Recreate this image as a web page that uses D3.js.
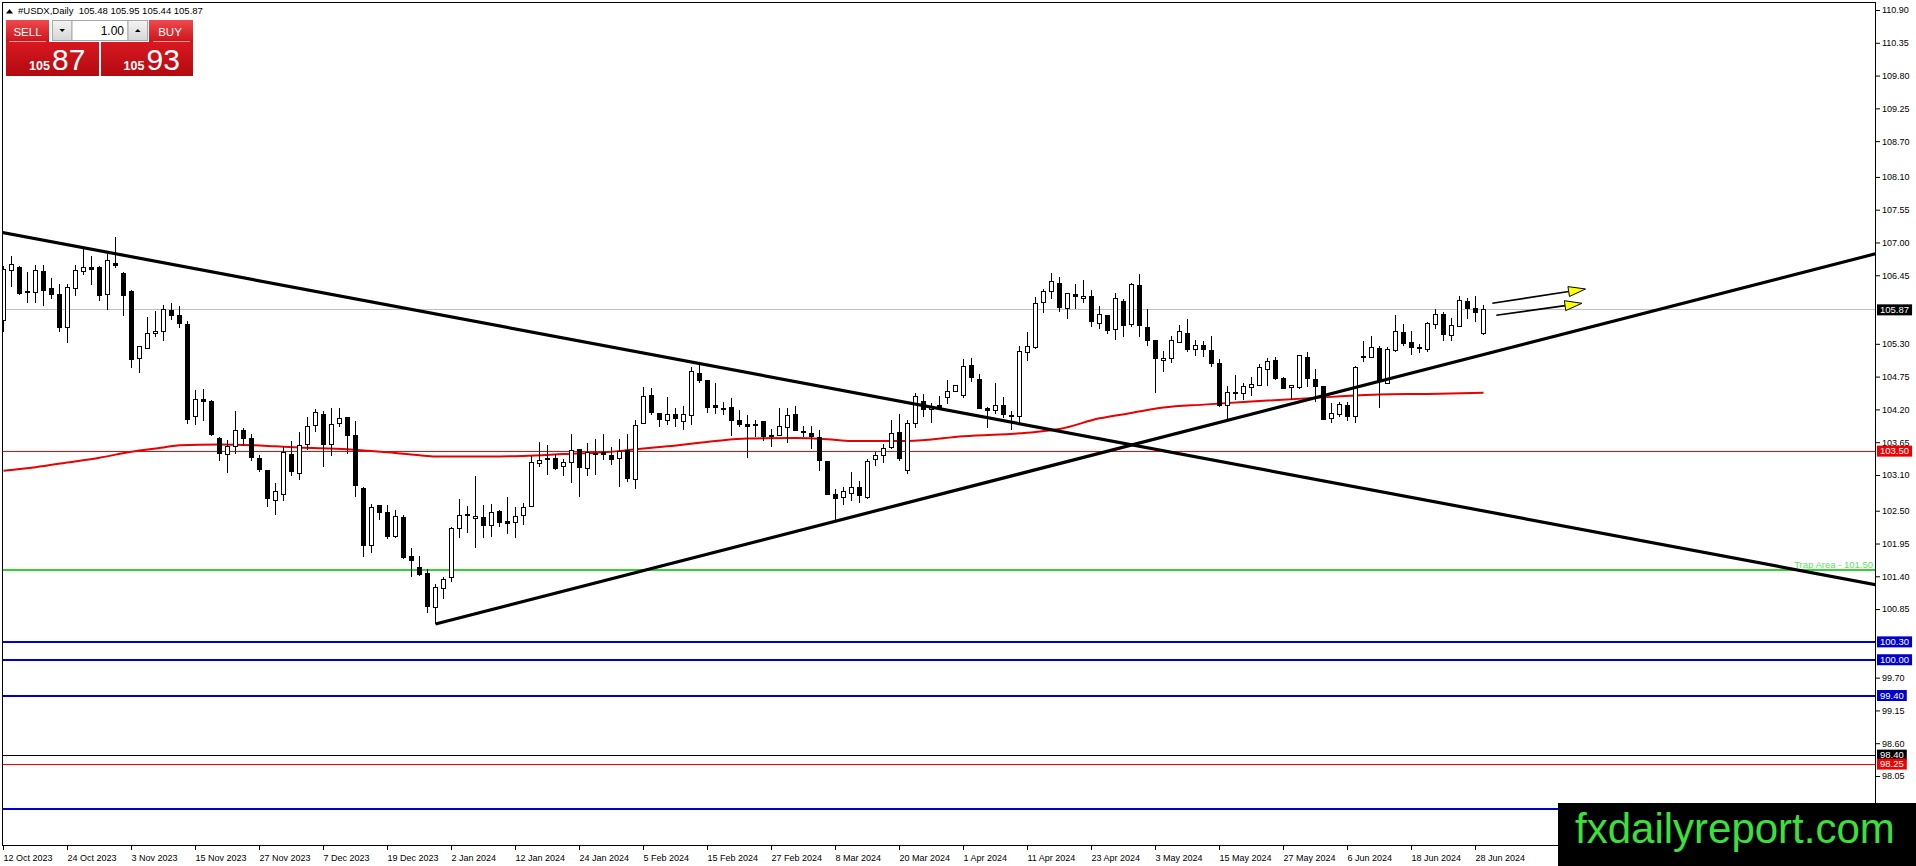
<!DOCTYPE html>
<html>
<head>
<meta charset="utf-8">
<script src="https://cdn.jsdelivr.net/npm/d3@7"></script>
<style>
body { margin: 0; background: #fff; overflow: hidden; }
text { font-family: "Liberation Sans", Arial, sans-serif; }
</style>
</head>
<body>
<svg id="chart" width="1916" height="866"></svg>
<script>
// daily candles, 12 Oct 2023 .. 1 Jul 2024
var opens = [105.69,106.53,106.58,106.18,106.16,106.52,106.22,106.12,105.57,106.23,106.51,106.58,106.58,106.13,106.64,106.48,106.17,105.06,105.22,105.48,
105.50,105.86,105.77,105.63,104.08,104.36,104.34,103.72,103.45,103.57,103.85,103.72,103.37,103.18,102.68,102.78,103.45,103.13,103.61,103.93,
104.12,103.61,103.97,104.07,103.77,102.88,101.91,102.58,102.47,102.06,102.38,101.74,101.55,101.44,100.88,101.20,101.38,102.20,102.42,102.37,
102.39,102.25,102.49,102.32,102.30,102.42,102.57,103.29,103.38,103.38,103.24,103.31,103.53,103.21,103.45,103.48,103.43,103.37,103.51,103.03,
103.97,104.43,104.13,104.01,104.11,103.99,104.10,104.80,104.68,104.26,104.22,104.24,104.02,103.95,103.94,103.99,103.77,103.77,103.90,104.12,
103.83,103.80,103.73,103.33,102.77,102.72,102.79,102.89,102.72,103.36,103.43,103.56,103.81,103.18,103.97,104.34,104.19,104.27,104.40,104.50,
104.43,104.94,104.70,104.21,104.18,104.27,104.10,104.08,105.16,105.24,105.99,106.17,106.32,105.89,106.13,106.06,106.09,105.64,105.78,105.54,
106.01,105.62,106.27,105.58,105.36,105.02,105.05,105.33,105.48,105.20,105.27,105.18,104.97,104.26,104.47,104.46,104.57,104.60,104.87,105.02,
104.71,104.57,104.57,105.07,104.70,104.58,104.05,104.12,104.27,104.08,105.08,105.07,105.22,104.64,105.18,105.49,105.33,105.22,105.21,105.63,
105.80,105.44,105.59,106.01,105.89,105.48];
var highs = [106.60,106.77,106.60,106.51,106.62,106.63,106.41,106.30,106.30,106.63,106.89,106.77,106.60,106.80,107.09,106.50,106.20,105.27,105.75,105.85,
105.95,105.98,105.94,105.69,104.53,104.54,104.36,103.74,103.69,104.18,103.89,103.78,103.43,103.19,102.97,103.57,103.67,103.82,104.07,104.20,
104.18,104.23,104.23,104.08,104.00,102.89,102.61,102.60,102.60,102.51,102.43,101.87,101.74,101.53,101.27,101.39,102.23,102.69,102.58,103.08,
102.59,102.62,102.51,102.73,102.57,102.63,103.41,103.66,103.60,103.46,103.36,103.79,103.54,103.64,103.71,103.79,103.57,103.71,103.79,104.02,
104.58,104.56,104.14,104.40,104.23,104.26,104.91,104.94,104.69,104.64,104.32,104.39,104.19,104.11,104.02,104.00,103.87,104.22,104.22,104.26,
103.92,103.92,103.86,103.34,102.87,102.90,103.15,103.00,103.37,103.48,103.62,104.03,104.12,104.02,104.47,104.45,104.30,104.42,104.70,104.61,
105.05,105.07,104.80,104.24,104.65,104.40,104.17,105.27,105.50,106.08,106.22,106.48,106.42,106.16,106.31,106.37,106.21,105.93,105.79,106.16,
106.06,106.32,106.47,105.88,105.37,105.18,105.43,105.61,105.71,105.37,105.35,105.43,105.04,104.60,104.77,104.65,104.74,104.96,105.06,105.08,
104.74,104.61,105.12,105.16,104.87,104.59,104.30,104.32,104.32,104.93,105.35,105.43,105.26,105.24,105.79,105.63,105.52,105.30,105.66,105.89,
105.83,105.74,106.10,106.07,106.10,105.95];
var lows = [105.50,106.26,106.12,105.98,105.98,105.94,106.05,105.49,105.32,106.11,106.45,106.29,106.02,105.86,106.58,105.77,104.90,104.81,105.21,105.42,
105.35,105.70,105.56,103.96,103.94,104.00,103.76,103.34,103.14,103.45,103.58,103.34,103.15,102.56,102.43,102.67,103.09,103.02,103.52,103.82,
103.24,103.41,103.90,103.46,102.73,101.73,101.79,102.35,102.03,102.05,101.69,101.39,101.41,100.79,100.60,101.02,101.31,102.05,102.12,101.88,
102.05,102.06,102.23,102.11,102.04,102.26,102.56,103.24,103.10,103.19,103.08,102.96,102.73,103.08,103.10,103.35,103.27,102.90,102.99,102.87,
103.96,104.11,103.91,103.93,103.91,103.86,103.93,104.64,104.14,104.12,104.11,103.75,103.91,103.38,103.73,103.67,103.57,103.76,103.63,103.84,
103.74,103.54,103.17,102.76,102.33,102.60,102.67,102.63,102.69,103.25,103.30,103.54,103.34,103.12,103.88,104.08,103.98,104.23,104.29,104.49,
104.39,104.66,104.20,103.89,104.12,104.05,103.85,103.98,105.01,105.21,105.81,106.05,105.84,105.71,105.89,105.98,105.58,105.55,105.46,105.37,
105.42,105.59,105.41,105.27,104.47,104.83,104.98,105.31,105.17,105.09,105.08,104.91,104.24,104.02,104.36,104.36,104.43,104.59,104.59,104.69,
104.54,104.36,104.54,104.58,104.33,104.02,103.97,104.08,104.01,103.97,104.99,105.06,104.23,104.62,105.16,105.26,105.11,105.14,105.17,105.55,
105.34,105.34,105.58,105.72,105.66,105.44];
var closes = [106.55,106.63,106.15,106.16,106.53,106.20,106.12,105.57,106.25,106.53,106.58,106.55,106.11,106.69,106.62,106.11,105.03,105.26,105.48,105.50,
105.88,105.77,105.64,104.03,104.37,104.34,103.78,103.46,103.57,103.84,103.72,103.39,103.19,102.71,102.82,103.48,103.15,103.60,103.91,104.15,
103.61,103.95,104.04,103.77,102.92,101.91,102.56,102.47,102.07,102.41,101.71,101.67,101.43,100.90,101.21,101.35,102.20,102.42,102.43,102.40,
102.25,102.47,102.31,102.29,102.41,102.56,103.31,103.35,103.36,103.21,103.31,103.51,103.23,103.48,103.46,103.44,103.36,103.49,103.04,103.93,
104.41,104.14,104.03,104.11,104.04,104.11,104.83,104.68,104.23,104.23,104.20,104.02,103.95,103.92,103.93,103.74,103.77,103.91,104.10,103.85,
103.81,103.74,103.34,102.77,102.70,102.82,102.89,102.76,103.32,103.42,103.54,103.79,103.38,103.96,104.41,104.20,104.24,104.24,104.50,104.60,
104.92,104.74,104.21,104.18,104.26,104.11,104.09,105.17,105.26,105.98,106.18,106.35,105.91,106.15,106.10,106.10,105.68,105.80,105.53,106.06,
105.61,106.30,105.61,105.35,105.05,105.06,105.36,105.50,105.21,105.28,105.20,104.97,104.27,104.49,104.48,104.58,104.61,104.90,105.00,104.71,
104.55,104.60,105.11,104.71,104.59,104.03,104.13,104.28,104.08,104.90,105.09,105.24,104.66,105.21,105.50,105.30,105.24,105.23,105.64,105.79,
105.45,105.60,106.02,105.89,105.82,105.87];

var dateLabels = ["12 Oct 2023","24 Oct 2023","3 Nov 2023","15 Nov 2023","27 Nov 2023","7 Dec 2023","19 Dec 2023","2 Jan 2024",
"12 Jan 2024","24 Jan 2024","5 Feb 2024","15 Feb 2024","27 Feb 2024","8 Mar 2024","20 Mar 2024","1 Apr 2024","11 Apr 2024",
"23 Apr 2024","3 May 2024","15 May 2024","27 May 2024","6 Jun 2024","18 Jun 2024","28 Jun 2024"];
var dateBars = dateLabels.map(function (d, i) { return i * 8; });

// visible scale labels (the ones under price tags / watermark are not shown)
var priceTicks = [110.90,110.35,109.80,109.25,108.70,108.10,107.55,107.00,106.45,105.30,104.75,104.20,103.65,
103.10,102.50,101.95,101.40,100.85,99.70,99.15,98.60,98.05];

// red moving average, read at these bars
var maBars = [0,4,8,12,16,20,22,27,31,34,37,43,45,49,52,54,61,65,70,75,79,83,89,93,99,103,106,113,120,129,132,137,141,145,150,157,166,172,178,185];
var maValues = [103.17,103.23,103.31,103.39,103.49,103.56,103.60,103.61,103.60,103.58,103.56,103.53,103.51,103.47,103.43,103.41,103.41,103.42,103.45,103.48,
103.53,103.58,103.67,103.71,103.72,103.70,103.67,103.67,103.75,103.82,103.87,104.05,104.14,104.23,104.28,104.34,104.41,104.45,104.46,104.48];

// horizontal levels
var bidPrice = 105.87;
var bluePrices = [100.30, 100.00, 99.40, 97.50];
var redPrices = [103.50, 98.25];
var blackPrices = [98.40];
var trapPrice = 101.50;

// trend lines and arrows as [bar, price] pairs
var trendDown = [[-1, 107.19], [234, 101.26]];
var trendUp = [[54, 100.60], [234, 106.81]];
var arrows = [[[186.1, 105.98], [197.75, 106.22]], [[186.6, 105.78], [197.3, 105.98]]];

var ohlcTitle = [105.48, 105.95, 105.44, 105.87];

var W = 1916, H = 866;
var plotL = 2, plotT = 2, plotR = 1875, plotB = 845;
var markTop = 803;

var svg = d3.select('#chart');
var x = d3.scaleLinear().domain([0, 233]).range([3.5, 3.5 + 8 * 233]);
var y = d3.scaleLinear().domain([110.90, 98.05]).range([10, 776]);

svg.append('rect').attr('width', W).attr('height', H).attr('fill', '#fff');

var defs = svg.append('defs');
defs.append('clipPath').attr('id', 'plotClip')
    .append('rect')
    .attr('x', plotL + 1).attr('y', plotT + 1)
    .attr('width', plotR - plotL - 1).attr('height', plotB - plotT - 1);

var tabGrad = defs.append('linearGradient').attr('id', 'tabGrad').attr('x1', 0).attr('y1', 0).attr('x2', 0).attr('y2', 1);
tabGrad.append('stop').attr('offset', '0%').attr('stop-color', '#ef4a4e');
tabGrad.append('stop').attr('offset', '100%').attr('stop-color', '#cc141a');
var boxGrad = defs.append('linearGradient').attr('id', 'boxGrad').attr('x1', 0).attr('y1', 0).attr('x2', 0).attr('y2', 1);
boxGrad.append('stop').attr('offset', '0%').attr('stop-color', '#d81820');
boxGrad.append('stop').attr('offset', '100%').attr('stop-color', '#b30a10');
var btnGrad = defs.append('linearGradient').attr('id', 'btnGrad').attr('x1', 0).attr('y1', 0).attr('x2', 0).attr('y2', 1);
btnGrad.append('stop').attr('offset', '0%').attr('stop-color', '#f4f4f4');
btnGrad.append('stop').attr('offset', '100%').attr('stop-color', '#d6d6d6');

var plot = svg.append('g').attr('clip-path', 'url(#plotClip)');

// level lines
function hline(price, color, width) {
    plot.append('line')
        .attr('x1', plotL).attr('x2', plotR)
        .attr('y1', y(price)).attr('y2', y(price))
        .attr('stroke', color).attr('stroke-width', width)
        .attr('shape-rendering', 'crispEdges');
}
hline(bidPrice, '#c0c0c0', 1);
redPrices.forEach(function (p) { hline(p, '#ff0000', 1); });
blackPrices.forEach(function (p) { hline(p, '#000000', 1); });
bluePrices.forEach(function (p) { hline(p, '#0000cd', 2); });
hline(trapPrice, '#33d233', 2);

// moving average
var maLine = d3.line()
    .x(function (d, i) { return x(maBars[i]); })
    .y(function (d) { return y(d); })
    .curve(d3.curveMonotoneX);
plot.append('path')
    .attr('d', maLine(maValues))
    .attr('fill', 'none')
    .attr('stroke', '#e60000')
    .attr('stroke-width', 2);

// candles
var candles = plot.selectAll('g.candle')
    .data(d3.range(opens.length))
    .enter()
    .append('g')
    .attr('class', 'candle')
    .attr('shape-rendering', 'crispEdges');

candles.append('line')
    .attr('x1', function (i) { return x(i); })
    .attr('x2', function (i) { return x(i); })
    .attr('y1', function (i) { return y(highs[i]); })
    .attr('y2', function (i) { return y(lows[i]); })
    .attr('stroke', '#000');

candles.append('rect')
    .attr('x', function (i) { return x(i) - 2; })
    .attr('y', function (i) { return y(Math.max(opens[i], closes[i])); })
    .attr('width', 4)
    .attr('height', function (i) { return Math.max(1, Math.abs(y(opens[i]) - y(closes[i]))); })
    .attr('fill', function (i) { return closes[i] >= opens[i] ? '#fff' : '#000'; })
    .attr('stroke', '#000');

// trend lines
var tl = d3.line()
    .x(function (d) { return x(d[0]); })
    .y(function (d) { return y(d[1]); });
[trendDown, trendUp].forEach(function (t) {
    plot.append('path')
        .attr('d', tl(t))
        .attr('fill', 'none')
        .attr('stroke', '#000')
        .attr('stroke-width', 3.2);
});

// yellow arrows
arrows.forEach(function (a) {
    var x1 = x(a[0][0]), y1 = y(a[0][1]), x2 = x(a[1][0]), y2 = y(a[1][1]);
    var ang = Math.atan2(y2 - y1, x2 - x1);
    var len = 17, half = 5;
    var bx = x2 - len * Math.cos(ang), by = y2 - len * Math.sin(ang);
    var nx = -Math.sin(ang) * half, ny = Math.cos(ang) * half;
    plot.append('line')
        .attr('x1', x1).attr('y1', y1).attr('x2', bx).attr('y2', by)
        .attr('stroke', '#000').attr('stroke-width', 1.6);
    plot.append('path')
        .attr('d', 'M' + x2 + ',' + y2 + 'L' + (bx + nx) + ',' + (by + ny) + 'L' + (bx - nx) + ',' + (by - ny) + 'Z')
        .attr('fill', '#ffff00')
        .attr('stroke', '#000')
        .attr('stroke-width', 1);
});

// trap area caption
svg.append('text')
    .attr('x', plotR - 2)
    .attr('y', y(trapPrice) - 2.5)
    .attr('text-anchor', 'end')
    .attr('font-size', 9.5)
    .attr('fill', '#5ee25e')
    .text('Trap Area - ' + trapPrice.toFixed(2));

// frame
svg.append('g').attr('shape-rendering', 'crispEdges').call(function (g) {
    g.append('line').attr('x1', plotL).attr('x2', plotR).attr('y1', plotT + 0.5).attr('y2', plotT + 0.5).attr('stroke', '#000');
    g.append('line').attr('x1', plotL + 0.5).attr('x2', plotL + 0.5).attr('y1', plotT).attr('y2', plotB).attr('stroke', '#000');
    g.append('line').attr('x1', plotR + 0.5).attr('x2', plotR + 0.5).attr('y1', plotT).attr('y2', plotB).attr('stroke', '#000');
    g.append('line').attr('x1', plotL).attr('x2', W).attr('y1', plotB + 0.5).attr('y2', plotB + 0.5).attr('stroke', '#000');
});

// price scale
var yAxis = d3.axisRight(y)
    .tickValues(priceTicks)
    .tickSize(4)
    .tickSizeOuter(0)
    .tickPadding(2)
    .tickFormat(d3.format('.2f'));
var gy = svg.append('g')
    .attr('transform', 'translate(' + (plotR + 1) + ',0)')
    .call(yAxis);
gy.select('.domain').remove();
gy.attr('font-family', '"Liberation Sans", Arial, sans-serif').attr('font-size', 9);
gy.selectAll('text').attr('fill', '#000');

// time scale
var xAxis = d3.axisBottom(x)
    .tickValues(dateBars)
    .tickSize(4)
    .tickSizeOuter(0)
    .offset(0)
    .tickFormat(function (d, i) { return dateLabels[i]; });
var gx = svg.append('g')
    .attr('transform', 'translate(0,' + (plotB + 1) + ')')
    .call(xAxis);
gx.select('.domain').remove();
gx.attr('font-family', '"Liberation Sans", Arial, sans-serif').attr('font-size', 9);
gx.selectAll('text').attr('text-anchor', 'start').attr('y', 9).attr('dx', 0).attr('fill', '#000');

// price tags on the scale (skip those hidden by the watermark)
function addTag(price, bg) {
    if (y(price) + 5.5 > markTop) return;
    var g = svg.append('g');
    var rect = g.append('rect');
    var t = g.append('text')
        .attr('x', plotR + 5)
        .attr('y', y(price) + 3.3)
        .attr('font-size', 9.5)
        .attr('fill', '#fff')
        .text(price.toFixed(2));
    var w = t.node().getComputedTextLength();
    rect.attr('x', plotR + 2).attr('y', y(price) - 5.5)
        .attr('width', w + 6).attr('height', 11)
        .attr('fill', bg);
}
addTag(bidPrice, '#000');
addTag(redPrices[0], '#f00000');
bluePrices.forEach(function (p) { addTag(p, '#0000cd'); });
addTag(blackPrices[0], '#000');
addTag(redPrices[1], '#f00000');

// title
svg.append('path').attr('d', 'M6,13.5L9.5,9L13,13.5Z').attr('fill', '#000');
svg.append('text')
    .attr('x', 18).attr('y', 14)
    .attr('font-size', 9.5)
    .attr('fill', '#000')
    .attr('xml:space', 'preserve')
    .text('#USDX,Daily  ' + ohlcTitle.map(function (v) { return v.toFixed(2); }).join(' '));

// one click trading panel
var bid = ohlcTitle[3], ask = 105.93;
var panel = svg.append('g');
panel.append('rect').attr('x', 6).attr('y', 20).attr('width', 43).attr('height', 22).attr('fill', 'url(#tabGrad)');
panel.append('rect').attr('x', 149).attr('y', 20).attr('width', 44).attr('height', 22).attr('fill', 'url(#tabGrad)');
panel.append('rect').attr('x', 6).attr('y', 42).attr('width', 93).attr('height', 34).attr('fill', 'url(#boxGrad)');
panel.append('rect').attr('x', 101).attr('y', 42).attr('width', 92).attr('height', 34).attr('fill', 'url(#boxGrad)');
panel.append('line').attr('x1', 9).attr('x2', 46).attr('y1', 41.5).attr('y2', 41.5).attr('stroke', '#f3a0a0');
panel.append('line').attr('x1', 153).attr('x2', 190).attr('y1', 41.5).attr('y2', 41.5).attr('stroke', '#f3a0a0');
panel.append('rect').attr('x', 52.5).attr('y', 20.5).attr('width', 19.5).attr('height', 20).attr('fill', 'url(#btnGrad)').attr('stroke', '#a8a8a8');
panel.append('rect').attr('x', 72).attr('y', 20.5).attr('width', 56).attr('height', 20).attr('fill', '#fff').attr('stroke', '#a8a8a8');
panel.append('rect').attr('x', 128).attr('y', 20.5).attr('width', 19.5).attr('height', 20).attr('fill', 'url(#btnGrad)').attr('stroke', '#a8a8a8');
panel.append('path').attr('d', 'M59.5,29L65,29L62.2,32Z').attr('fill', '#000');
panel.append('path').attr('d', 'M135,32L140.5,32L137.8,29Z').attr('fill', '#000');
panel.append('text').attr('x', 124).attr('y', 35).attr('text-anchor', 'end').attr('font-size', 12).attr('fill', '#000').text('1.00');
panel.append('text').attr('x', 27.5).attr('y', 35.5).attr('text-anchor', 'middle').attr('font-size', 11.5).attr('fill', '#fff').text('SELL');
panel.append('text').attr('x', 170).attr('y', 35.5).attr('text-anchor', 'middle').attr('font-size', 11.5).attr('fill', '#fff').text('BUY');

function priceBig(v, x0) {
    var s = v.toFixed(2).split('.');
    panel.append('text').attr('x', x0).attr('y', 70).attr('font-size', 12.5).attr('font-weight', 'bold').attr('fill', '#fff').text(s[0]);
    panel.append('text').attr('x', x0 + 23).attr('y', 70).attr('font-size', 30).attr('fill', '#fff').text(s[1]);
}
priceBig(bid, 29);
priceBig(ask, 123.5);

// watermark
svg.append('rect').attr('x', 1558).attr('y', markTop).attr('width', W - 1558).attr('height', H - markTop).attr('fill', '#000');
svg.append('text')
    .attr('x', 1575).attr('y', 843)
    .attr('font-size', 42)
    .attr('fill', '#3ce03c')
    .text('fxdailyreport.com');
</script>
</body>
</html>
